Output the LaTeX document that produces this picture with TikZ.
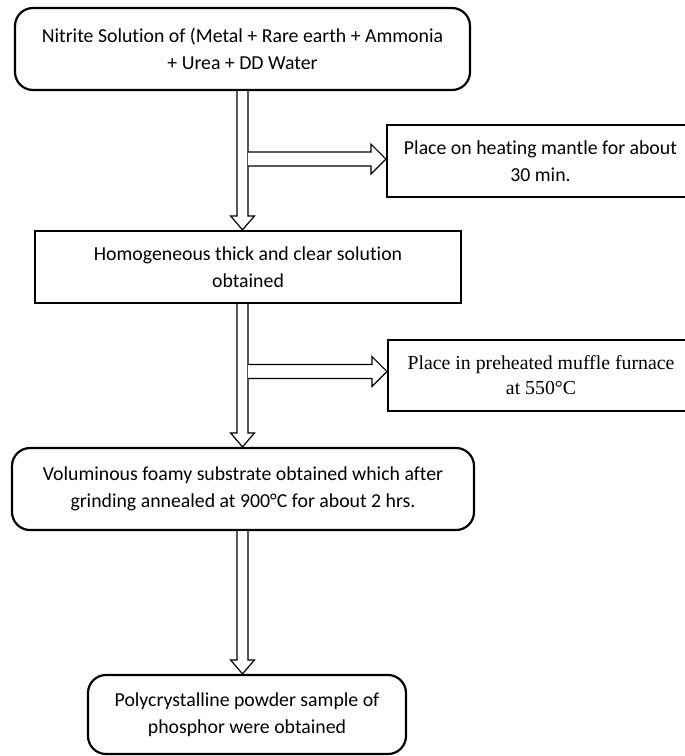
\documentclass[tikz,border=0pt]{standalone}
\usepackage{fontspec}
\setmainfont{Carlito}[RawFeature=-liga]
\newfontfamily\timesfont{Liberation Serif}
\usetikzlibrary{calc}
\tikzset{
  box/.style={draw, line width=2.2pt, fill=white, align=center, inner sep=0pt,
    font=\fontsize{19.8}{27}\selectfont},
  rbox/.style={box, rounded corners=18pt},
  harrow/.style={draw, line width=1.2pt, fill=white, line join=miter},
}
\begin{document}
\begin{tikzpicture}[x=1pt,y=-1pt]
\useasboundingbox (0,0) rectangle (685,756);
\clip (0,0) rectangle (685,756);
\coordinate (col) at (242.5,0);

\node[rbox, minimum width=455pt, minimum height=82pt] (b1) at (242.5,49)
  {Nitrite Solution of (Metal + Rare earth + Ammonia\\+ Urea + DD Water};
\node[box, minimum width=307pt, minimum height=72pt] (heat) at (540.5,161)
  {Place on heating mantle for about\\30 min.};
\node[box, minimum width=426pt, minimum height=72pt] (b2) at (248,267)
  {Homogeneous thick and clear solution\\obtained};
\node[box, minimum width=306pt, minimum height=71pt,
  font=\timesfont\fontsize{19.8}{25}\selectfont] (furn) at (541,375.5)
  {Place in preheated muffle furnace\\at 550\textdegree C};
\node[rbox, minimum width=462pt, minimum height=82pt] (b3) at (243,489)
  {Voluminous foamy substrate obtained which after\\grinding annealed at 900\textdegree C for about 2 hrs.};
\node[rbox, minimum width=318pt, minimum height=79pt] (b4) at (247,714.5)
  {Polycrystalline powder sample of\\phosphor were obtained};

% vertical hollow arrows
\foreach \a/\b in {b1/b2, b2/b3, b3/b4}{
  \coordinate (s) at (\a.south -| col);
  \coordinate (t) at (\b.north -| col);
  \draw[harrow] ($(s)+(-5.5,0)$) -- ($(t)+(-5.5,-14)$) -- ($(t)+(-12,-14)$)
    -- (t) -- ($(t)+(12,-14)$) -- ($(t)+(5.5,-14)$) -- ($(s)+(5.5,0)$);
}

% side hollow arrows
\foreach \b/\y in {heat/159, furn/371.5}{
  \coordinate (t) at (\b.west |- 0,\y);
  \coordinate (s) at (248,\y);
  \draw[harrow] ($(s)+(0,-7)$) -- ($(t)+(-15,-7)$) -- ($(t)+(-15,-15)$)
    -- (t) -- ($(t)+(-15,15)$) -- ($(t)+(-15,7)$) -- ($(s)+(0,7)$);
}
\end{tikzpicture}
\end{document}
